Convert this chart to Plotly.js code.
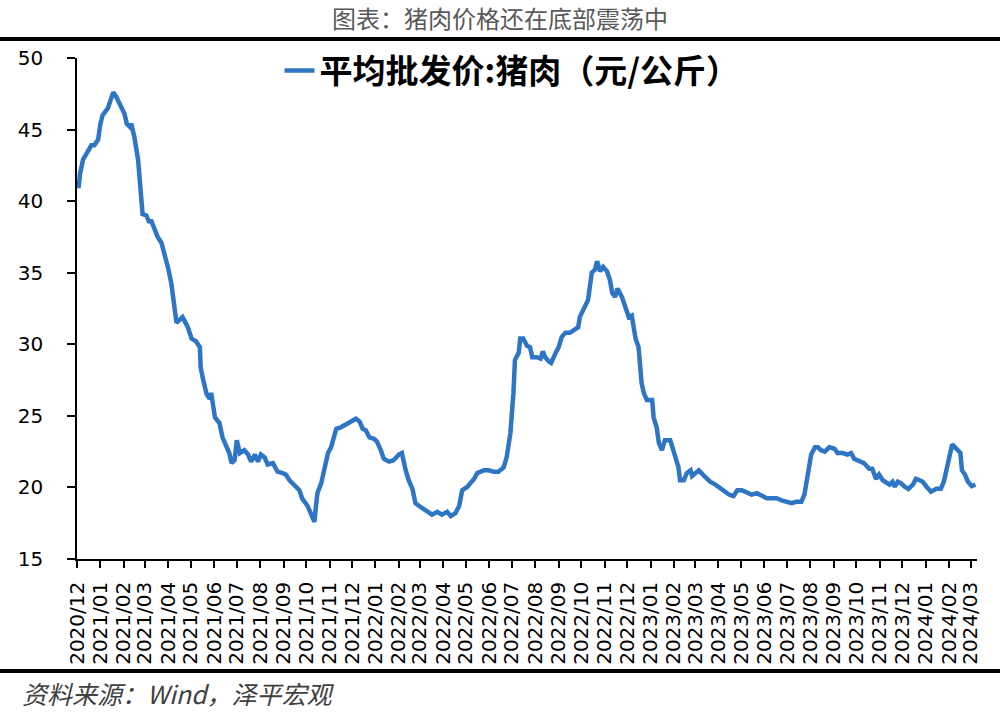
<!DOCTYPE html>
<html>
<head>
<meta charset="utf-8">
<script src="https://cdn.plot.ly/plotly-3.0.1.min.js"></script>
<style>
  body { margin: 0; background: #fff; }
  #chart { width: 1000px; height: 713px; }
</style>
</head>
<body>
<div id="chart"></div>
<script>
// 平均批发价:猪肉 (元/公斤)
var dates = [
  '2020-12-03', '2020-12-05', '2020-12-09', '2020-12-16', '2020-12-20', '2020-12-24', '2020-12-29',
  '2021-01-01', '2021-01-04', '2021-01-11', '2021-01-16', '2021-01-18', '2021-01-22', '2021-01-29',
  '2021-02-02', '2021-02-05', '2021-02-09', '2021-02-11', '2021-02-15', '2021-02-20', '2021-02-24', '2021-02-26',
  '2021-03-03', '2021-03-07', '2021-03-09', '2021-03-14', '2021-03-18', '2021-03-23', '2021-03-27',
  '2021-04-01', '2021-04-05', '2021-04-09', '2021-04-12', '2021-04-16', '2021-04-20', '2021-04-23', '2021-04-27',
  '2021-05-02', '2021-05-08', '2021-05-13', '2021-05-14', '2021-05-17', '2021-05-22', '2021-05-26', '2021-05-28',
  '2021-06-02', '2021-06-08', '2021-06-12', '2021-06-17', '2021-06-21', '2021-06-24', '2021-06-28',
  '2021-07-01', '2021-07-05', '2021-07-11', '2021-07-16', '2021-07-20', '2021-07-25', '2021-07-29',
  '2021-08-02', '2021-08-07', '2021-08-11', '2021-08-18', '2021-08-24', '2021-08-31',
  '2021-09-04', '2021-09-09', '2021-09-15', '2021-09-22', '2021-09-26',
  '2021-10-03', '2021-10-07', '2021-10-12', '2021-10-14', '2021-10-16', '2021-10-21', '2021-10-25', '2021-10-30',
  '2021-11-03', '2021-11-08', '2021-11-10', '2021-11-16', '2021-11-23', '2021-11-30',
  '2021-12-06', '2021-12-11', '2021-12-15', '2021-12-19', '2021-12-24', '2021-12-30',
  '2022-01-03', '2022-01-08', '2022-01-12', '2022-01-19', '2022-01-25',
  '2022-02-01', '2022-02-05', '2022-02-10', '2022-02-14', '2022-02-19', '2022-02-23', '2022-02-28',
  '2022-03-06', '2022-03-11', '2022-03-17', '2022-03-24', '2022-03-30',
  '2022-04-06', '2022-04-11', '2022-04-17', '2022-04-22', '2022-04-26',
  '2022-05-03', '2022-05-07', '2022-05-12', '2022-05-16', '2022-05-25', '2022-05-31',
  '2022-06-07', '2022-06-13', '2022-06-20', '2022-06-24', '2022-06-29',
  '2022-07-03', '2022-07-05', '2022-07-10', '2022-07-12', '2022-07-16', '2022-07-21', '2022-07-25', '2022-07-28',
  '2022-08-03', '2022-08-08', '2022-08-11', '2022-08-14', '2022-08-19', '2022-08-22', '2022-08-28',
  '2022-09-01', '2022-09-05', '2022-09-10', '2022-09-16', '2022-09-21', '2022-09-27', '2022-09-29',
  '2022-10-04', '2022-10-10', '2022-10-15', '2022-10-19', '2022-10-22', '2022-10-26', '2022-10-30',
  '2022-11-04', '2022-11-08', '2022-11-11', '2022-11-15', '2022-11-18', '2022-11-24', '2022-11-29',
  '2022-12-03', '2022-12-07', '2022-12-12', '2022-12-16', '2022-12-20', '2022-12-23', '2022-12-27',
  '2023-01-03', '2023-01-05', '2023-01-09', '2023-01-12', '2023-01-16', '2023-01-20', '2023-01-27', '2023-01-31',
  '2023-02-03', '2023-02-07', '2023-02-09', '2023-02-14', '2023-02-18', '2023-02-23', '2023-02-25',
  '2023-03-06', '2023-03-13', '2023-03-21', '2023-03-28',
  '2023-04-06', '2023-04-15', '2023-04-21', '2023-04-26',
  '2023-05-02', '2023-05-09', '2023-05-15', '2023-05-22', '2023-05-28',
  '2023-06-04', '2023-06-11', '2023-06-17', '2023-06-24', '2023-06-30',
  '2023-07-07', '2023-07-13', '2023-07-20', '2023-07-24', '2023-07-29',
  '2023-08-02', '2023-08-07', '2023-08-11', '2023-08-15', '2023-08-20', '2023-08-26',
  '2023-09-02', '2023-09-06', '2023-09-13', '2023-09-19', '2023-09-24', '2023-09-28',
  '2023-10-05', '2023-10-11', '2023-10-18', '2023-10-22', '2023-10-27', '2023-10-31',
  '2023-11-05', '2023-11-09', '2023-11-14', '2023-11-18', '2023-11-21', '2023-11-25', '2023-11-29',
  '2023-12-04', '2023-12-09', '2023-12-15', '2023-12-19', '2023-12-24', '2023-12-28',
  '2024-01-02', '2024-01-08', '2024-01-15', '2024-01-21', '2024-01-25', '2024-01-29',
  '2024-02-02', '2024-02-05', '2024-02-08', '2024-02-13', '2024-02-16', '2024-02-18', '2024-02-22', '2024-02-26',
  '2024-03-02', '2024-03-07'
];

var prices = [
  40.9, 41.9, 42.9, 43.6, 43.9, 43.9, 44.3,
  45.4, 46.0, 46.5, 47.3, 47.6, 47.3, 46.6,
  46.1, 45.4, 45.2, 45.4, 44.5, 42.9, 40.8, 39.1,
  39.0, 38.5, 38.7, 38.0, 37.5, 37.1, 36.4,
  35.3, 34.3, 32.9, 31.5, 31.7, 31.9, 31.6, 31.2,
  30.4, 30.2, 29.8, 28.4, 27.6, 26.5, 26.2, 26.6,
  24.9, 24.5, 23.5, 22.8, 22.4, 21.7, 21.9,
  23.3, 22.4, 22.6, 22.3, 21.8, 22.3, 21.8,
  22.3, 22.1, 21.6, 21.7, 21.1, 21.0,
  20.9, 20.5, 20.2, 19.8, 19.2,
  18.7, 18.2, 17.6, 18.7, 19.6, 20.3, 21.4, 22.4,
  22.8, 23.7, 24.1, 24.2, 24.4, 24.6,
  24.8, 24.6, 24.1, 24.0, 23.5, 23.4,
  23.2, 22.6, 22.0, 21.8, 21.9,
  22.3, 22.4, 21.2, 20.5, 19.9, 18.9, 18.7,
  18.5, 18.3, 18.1, 18.3, 18.1,
  18.3, 18.0, 18.2, 18.7, 19.8,
  20.05, 20.3, 20.6, 21.0, 21.2, 21.2,
  21.1, 21.1, 21.4, 22.1, 23.8,
  26.6, 28.9, 29.4, 30.4, 30.4, 29.9, 29.8, 29.1,
  29.1, 29.0, 29.5, 29.1, 28.8, 28.7, 29.4,
  29.8, 30.5, 30.8, 30.8, 31.0, 31.2, 31.9,
  32.4, 33.1, 35.0, 35.2, 35.8, 35.1, 35.4,
  35.1, 34.5, 33.6, 33.3, 33.9, 33.3, 32.6,
  31.9, 32.0, 30.4, 29.8, 27.3, 26.6, 26.1,
  26.1, 24.9, 24.2, 23.1, 22.6, 23.3, 23.3, 22.6,
  21.9, 21.4, 20.5, 20.5, 21.0, 21.2, 20.8,
  21.2, 20.8, 20.4, 20.2,
  19.8, 19.5, 19.4, 19.8,
  19.8, 19.6, 19.5, 19.6, 19.4,
  19.25, 19.25, 19.25, 19.1, 19.0,
  18.9, 19.0, 19.0, 19.5, 21.1,
  22.3, 22.8, 22.8, 22.6, 22.5, 22.8,
  22.7, 22.4, 22.4, 22.3, 22.4, 22.0,
  21.8, 21.7, 21.3, 21.3, 20.6, 20.9,
  20.5, 20.4, 20.2, 20.4, 20.05, 20.4, 20.3,
  20.05, 19.9, 20.2, 20.6, 20.5, 20.4,
  20.05, 19.7, 19.9, 19.9, 20.4, 21.45,
  22.4, 23.0, 22.85, 22.6, 22.4, 21.2, 20.9, 20.4,
  20.1, 20.2
];

var seriesName = '平均批发价:猪肉（元/公斤）';
var chartTitle = '图表：猪肉价格还在底部震荡中';
var sourceNote = '资料来源：Wind，泽平宏观';

var data = [
    {
        x: dates,
        y: prices,
        type: 'scatter',
        mode: 'lines',
        name: seriesName,
        line: { color: '#2E75C5', width: 4.5 },
        showlegend: true
    }
];

var layout = {
    width: 1000,
    height: 713,
    margin: { l: 77, r: 23, t: 58, b: 154 },
    paper_bgcolor: '#fff',
    plot_bgcolor: '#fff',
    font: { family: 'DejaVu Sans, sans-serif', color: '#000' },
    title: {
        text: chartTitle,
        font: { family: 'Noto Sans CJK SC', size: 24, color: '#595959' },
        x: 0.5, xref: 'container', xanchor: 'center',
        y: 0.972, yref: 'container', yanchor: 'middle'
    },
    xaxis: {
        type: 'date',
        range: ['2020-12-01', '2024-03-09'],
        tick0: '2020-12-01',
        dtick: 'M1',
        tickformat: '%Y/%m',
        tickangle: -90,
        ticks: 'outside',
        ticklen: 7,
        tickwidth: 1.5,
        tickcolor: '#000',
        ticklabelstandoff: 6,
        tickfont: { family: 'DejaVu Sans', size: 20, color: '#000' },
        showline: true,
        linecolor: '#000',
        linewidth: 1.5,
        showgrid: false,
        zeroline: false
    },
    yaxis: {
        range: [15, 50],
        dtick: 5,
        ticks: 'outside',
        ticklen: 8,
        tickwidth: 1.5,
        tickcolor: '#000',
        ticklabelstandoff: 20,
        tickfont: { family: 'DejaVu Sans', size: 20, color: '#000' },
        showline: true,
        linecolor: '#000',
        linewidth: 1.5,
        showgrid: false,
        zeroline: false
    },
    legend: {
        x: 0.225, y: 0.975,
        xanchor: 'left', yanchor: 'middle',
        orientation: 'h',
        bgcolor: 'rgba(0,0,0,0)',
        font: { family: 'Noto Sans CJK SC', size: 33, weight: 'bold', color: '#000' }
    },
    shapes: [
        // thick rule under the title
        { type: 'line', xref: 'paper', yref: 'paper', x0: -77 / 900, x1: 923 / 900,
          y0: 1 + 19 / 501, y1: 1 + 19 / 501, line: { color: '#000', width: 4 } },
        // thick rule above the source note
        { type: 'line', xref: 'paper', yref: 'paper', x0: -77 / 900, x1: 923 / 900,
          y0: -112 / 501, y1: -112 / 501, line: { color: '#000', width: 4 } }
    ],
    annotations: [
        {
            text: sourceNote,
            xref: 'paper', yref: 'paper',
            x: -57 / 900, y: -134 / 501,
            xanchor: 'left', yanchor: 'middle',
            showarrow: false,
            font: { family: 'Noto Sans CJK SC', size: 25, color: '#404040', style: 'italic' }
        }
    ]
};

Plotly.newPlot('chart', data, layout, { displayModeBar: false });
</script>
</body>
</html>
